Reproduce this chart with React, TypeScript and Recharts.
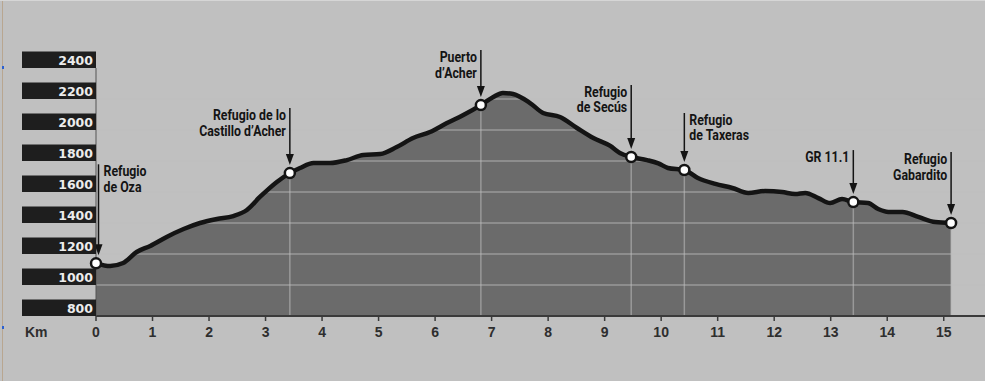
import React from 'react';
import { ComposedChart, Area, Line, XAxis, YAxis, ReferenceLine, ReferenceDot } from 'recharts';

// profile, km vs metres
const KM = [0, 0.25, 0.48, 0.72, 0.96, 1.25, 1.55, 1.84, 2.14, 2.43, 2.67, 2.9, 3.2, 3.43, 3.61, 3.85, 4.14, 4.44, 4.73, 5.03, 5.32, 5.61, 5.91, 6.21, 6.5, 6.81, 7.03, 7.2, 7.38, 7.68, 7.91, 8.21, 8.51, 8.8, 9.1, 9.27, 9.47, 9.75, 9.95, 10.12, 10.41, 10.65, 10.96, 11.26, 11.54, 11.84, 12.14, 12.37, 12.55, 12.78, 12.99, 13.2, 13.4, 13.66, 13.84, 14.02, 14.27, 14.55, 14.85, 15.13];
const ELEV = [1140, 1123, 1142, 1213, 1252, 1310, 1361, 1400, 1426, 1445, 1484, 1568, 1665, 1722, 1755, 1787, 1787, 1806, 1839, 1845, 1890, 1948, 1987, 2045, 2097, 2161, 2213, 2239, 2232, 2174, 2110, 2084, 2013, 1948, 1897, 1852, 1826, 1806, 1785, 1755, 1742, 1690, 1652, 1626, 1594, 1606, 1600, 1587, 1594, 1561, 1529, 1555, 1535, 1529, 1490, 1471, 1471, 1439, 1406, 1400];

const X_TICKS = [0, 1, 2, 3, 4, 5, 6, 7, 8, 9, 10, 11, 12, 13, 14, 15];
const Y_TICKS = [800, 1000, 1200, 1400, 1600, 1800, 2000, 2200, 2400];
const GRID_Y = [1000, 1200, 1400, 1600, 1800, 2000, 2200];

const MARKER_KM = [0, 3.43, 6.81, 9.47, 10.41, 13.4, 15.13];
const MARKER_ELEV = [1140, 1722, 2161, 1826, 1742, 1535, 1400];
const MARKER_LABELS = [
  ['Refugio', 'de Oza'],
  ['Refugio de lo', 'Castillo d’Acher'],
  ['Puerto', 'd’Acher'],
  ['Refugio', 'de Secús'],
  ['Refugio', 'de Taxeras'],
  ['GR 11.1'],
  ['Refugio', 'Gabardito'],
];

// annotation layout (pixels)
const ARROW_LEN = [99, 65, 55, 72, 57, 52, 71];
const ARROW_DX = [2.5, 0, 0, 0, 0, 0, 0];
const LABEL_SIDE = ['right', 'left', 'left', 'left', 'right', 'left', 'left'];

const BG = '#c0c0c0';
const FILL = '#6b6b6b';
const INK = '#141414';
const LABEL_FONT = "'Roboto', sans-serif";
const TICK_FONT = "'Liberation Sans', Arial, sans-serif";

const data = KM.map((km, i) => ({ km, elev: ELEV[i] }));

const YTick = (props: any) => {
  const { y, payload } = props;
  return (
    <g>
      <rect x={22} y={y - 16.5} width={74} height={16.5} fill="#1e1e1e" />
      <text x={93} y={y - 3} textAnchor="end" fill="#ececec" fontSize={12.5} fontWeight="bold" fontFamily="'DejaVu Sans', sans-serif">
        {payload.value}
      </text>
    </g>
  );
};

const markerShape = (i: number) => (props: any) => {
  const { cx, cy } = props;
  const ax = cx + ARROW_DX[i];
  const top = cy - ARROW_LEN[i];
  const tip = cy - 8;
  const right = LABEL_SIDE[i] === 'right';
  const tx = right ? ax + 5 : ax - 4;
  return (
    <g>
      <line x1={ax} y1={top} x2={ax} y2={tip - 9} stroke={INK} strokeWidth={1.5} />
      <path d={`M${ax - 4},${tip - 11} L${ax + 4},${tip - 11} L${ax},${tip} Z`} fill={INK} />
      {MARKER_LABELS[i].map((t, j) => (
        <text
          key={j}
          transform={`translate(${tx},${top + 12 + j * 15.5}) scale(0.88,1)`}
          textAnchor={right ? 'start' : 'end'}
          fontSize={14}
          fontWeight="bold"
          fontFamily={LABEL_FONT}
          fill={INK}
        >
          {t}
        </text>
      ))}
      <circle cx={cx} cy={cy} r={5} fill="#ffffff" stroke={INK} strokeWidth={2.5} />
    </g>
  );
};

export default function App() {
  return (
    <div style={{ position: 'absolute', left: 0, top: 0, width: 985, height: 381, background: BG, overflow: 'hidden' }}>
      <div style={{ position: 'absolute', left: 2, top: 0, width: 1, height: 381, background: '#b8a690' }} />
      <div style={{ position: 'absolute', left: 2, top: 66, width: 2, height: 3, background: '#2a5fd0' }} />
      <div style={{ position: 'absolute', left: 2, top: 326, width: 2, height: 3, background: '#2a5fd0' }} />
      <div style={{ position: 'absolute', left: 0, top: 0, width: 985, height: 1, background: '#d6d6d6' }} />
      <div
        style={{
          position: 'absolute',
          left: 25,
          top: 324,
          fontFamily: TICK_FONT,
          fontWeight: 'bold',
          fontSize: 14,
          color: '#2e2e2e',
        }}
      >
        Km
      </div>
      <ComposedChart width={985} height={381} data={data} margin={{ top: 68, right: 0, bottom: 35, left: 0 }}>
        <XAxis
          dataKey="km"
          type="number"
          domain={[0, 15.73]}
          allowDataOverflow
          ticks={X_TICKS}
          height={30}
          axisLine={{ stroke: '#3a3a3a', strokeWidth: 2 }}
          tickLine={{ stroke: '#3a3a3a', strokeWidth: 1.5 }}
          tickSize={5}
          tickMargin={6}
          tick={{ fontSize: 14, fontWeight: 'bold', fill: '#2e2e2e', fontFamily: TICK_FONT }}
        />
        <YAxis
          type="number"
          domain={[800, 2400]}
          ticks={Y_TICKS}
          width={96}
          axisLine={{ stroke: '#555555', strokeWidth: 1 }}
          tickLine={false}
          tick={<YTick />}
          interval={0}
        />
        <Area
          dataKey="elev"
          type="monotone"
          fill={FILL}
          fillOpacity={1}
          stroke="none"
          baseValue={800}
          isAnimationActive={false}
        />
        {GRID_Y.map((v) => (
          <ReferenceLine key={`g${v}`} y={v} stroke={BG} strokeOpacity={0.55} strokeWidth={1.5} />
        ))}
        {MARKER_KM.slice(1).map((km, i) => (
          <ReferenceLine
            key={`v${km}`}
            segment={[
              { x: km, y: 800 },
              { x: km, y: MARKER_ELEV[i + 1] },
            ]}
            stroke={BG}
            strokeOpacity={0.55}
            strokeWidth={1.5}
          />
        ))}
        <Line dataKey="elev" type="monotone" stroke={INK} strokeWidth={4.5} dot={false} isAnimationActive={false} />
        {MARKER_KM.map((km, i) => (
          <ReferenceDot key={`m${i}`} x={km} y={MARKER_ELEV[i]} r={5} shape={markerShape(i)} />
        ))}
      </ComposedChart>
    </div>
  );
}
